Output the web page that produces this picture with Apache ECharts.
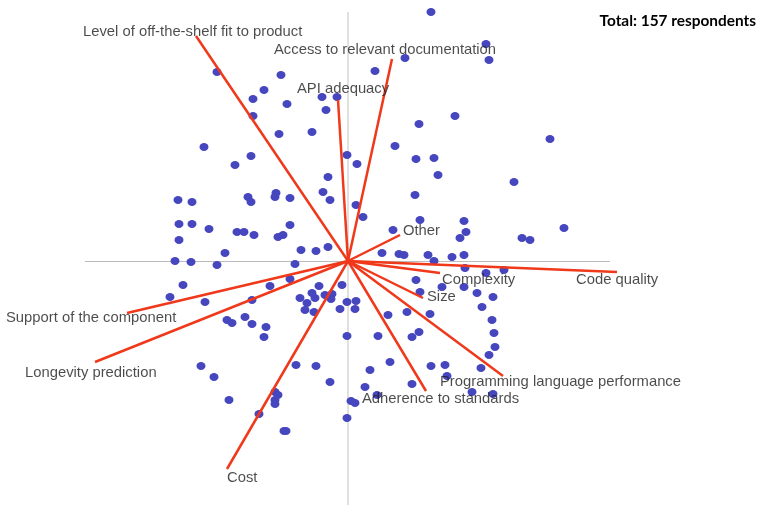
<!DOCTYPE html>
<html>
<head>
<meta charset="utf-8">
<script src="https://cdn.jsdelivr.net/npm/echarts@6/dist/echarts.min.js"></script>
<style>
  html, body { margin: 0; padding: 0; background: #fff; }
  #chart { width: 763px; height: 506px; }
</style>
</head>
<body>
<div id="chart"></div>
<script>
// Respondent scores on the first two principal components
const respondentScores = [
  [-1.31, 1.89], [-0.67, 1.86], [-0.84, 1.71], [-0.95, 1.62], [-0.61, 1.57],
  [-0.26, 1.64], [-0.11, 1.64], [-0.22, 1.51], [-0.95, 1.45], [-0.69, 1.27],
  [-0.36, 1.29], [-1.44, 1.14], [0.83, 2.49], [1.38, 2.17], [1.41, 2.01],
  [0.57, 2.03], [0.27, 1.90], [1.07, 1.45], [0.71, 1.37], [2.02, 1.22],
  [0.47, 1.15], [-0.97, 1.05], [-1.13, 0.96], [-0.01, 1.06], [0.09, 0.97],
  [-0.20, 0.84], [-0.25, 0.69], [-0.18, 0.61], [0.08, 0.56], [0.15, 0.44],
  [-1.70, 0.61], [-1.56, 0.59], [-1.00, 0.64], [-0.97, 0.59], [-0.72, 0.68],
  [-0.73, 0.64], [-0.58, 0.63], [-1.69, 0.37], [-1.56, 0.37], [-1.39, 0.32],
  [-1.69, 0.21], [-1.11, 0.29], [-1.04, 0.29], [-0.94, 0.26], [-0.58, 0.36],
  [-0.70, 0.24], [-0.65, 0.26], [-1.23, 0.08], [-0.47, 0.11], [-0.32, 0.10],
  [-0.20, 0.14], [-1.73, 0.00], [-1.57, -0.01], [-1.31, -0.04], [-0.53, -0.03],
  [-1.65, -0.24], [-0.58, -0.18], [-0.78, -0.25], [-0.29, -0.25], [-0.06, -0.24],
  [0.68, 1.02], [0.86, 1.03], [0.90, 0.86], [1.66, 0.79], [0.67, 0.66],
  [0.72, 0.41], [1.16, 0.40], [1.18, 0.29], [1.12, 0.23], [1.74, 0.23],
  [1.82, 0.21], [2.16, 0.33], [0.45, 0.31], [0.34, 0.08], [0.51, 0.07],
  [0.56, 0.06], [0.80, 0.06], [0.86, 0.00], [1.04, 0.04], [1.16, 0.06],
  [1.17, -0.07], [1.38, -0.12], [1.56, -0.09], [0.68, -0.19], [0.94, -0.26],
  [1.16, -0.26], [0.72, -0.31], [1.29, -0.32], [1.45, -0.36], [1.34, -0.46],
  [1.44, -0.59], [1.46, -0.72], [1.47, -0.86], [1.41, -0.94], [1.33, -1.07],
  [0.40, -0.54], [0.59, -0.51], [0.82, -0.53], [0.30, -0.75], [0.64, -0.76],
  [0.71, -0.71], [0.42, -1.01], [0.22, -1.09], [0.83, -1.05], [0.97, -1.04],
  [0.99, -1.15], [0.64, -1.23], [0.17, -1.26], [1.24, -1.31], [1.45, -1.33],
  [0.29, -1.34], [-1.78, -0.36], [-1.43, -0.41], [-0.96, -0.39], [-1.21, -0.59],
  [-1.16, -0.62], [-1.03, -0.56], [-0.96, -0.63], [-0.82, -0.66], [-0.84, -0.76],
  [-0.48, -0.37], [-0.36, -0.32], [-0.33, -0.37], [-0.41, -0.42], [-0.43, -0.49],
  [-0.34, -0.51], [-0.23, -0.34], [-0.16, -0.33], [-0.17, -0.38], [-0.01, -0.41],
  [0.08, -0.40], [-0.08, -0.48], [0.07, -0.48], [-0.01, -0.75], [-1.47, -1.05],
  [-1.34, -1.16], [-0.52, -1.04], [-0.32, -1.05], [-0.18, -1.21], [-1.19, -1.39],
  [-0.73, -1.31], [-0.70, -1.34], [-0.73, -1.39], [-0.73, -1.43], [-0.89, -1.53],
  [-0.64, -1.70], [-0.62, -1.70], [0.03, -1.40], [0.07, -1.42], [-0.01, -1.57]
];

// Selection criteria and their loading vectors
const criteria = [
  'Level of off-the-shelf fit to product',
  'Access to relevant documentation',
  'API adequacy',
  'Other',
  'Code quality',
  'Complexity',
  'Size',
  'Programming language performance',
  'Adherence to standards',
  'Cost',
  'Longevity prediction',
  'Support of the component'
];
const loadingX = [-1.52, 0.44, -0.10, 0.52, 2.69, 0.92, 0.75, 1.55, 0.78, -1.21, -2.53, -2.21];
const loadingY = [2.25, 2.02, 1.61, 0.26, -0.11, -0.12, -0.37, -1.15, -1.30, -2.08, -1.01, -0.52];

const totalLabel = 'Total: 157 respondents';

// Where each criterion's label sits relative to its arrow tip (px: right, down)
const labelShift = [
  [-113, -4], [-118, -9], [-41, -11], [3, -4], [-41, 8], [2, 7],
  [4, -1], [-63, 6], [-64, 8], [0, 9], [-70, 11], [-121, 5]
];

const chart = echarts.init(document.getElementById('chart'), null, { renderer: 'canvas' });

const vectorLines = criteria.map((name, i) => ({
  name,
  coords: [[0, 0], [loadingX[i], loadingY[i]]]
}));

const vectorTips = criteria.map((name, i) => ({
  name,
  value: [loadingX[i], loadingY[i]],
  label: { offset: labelShift[i] }
}));

chart.setOption({
  animation: false,
  backgroundColor: '#ffffff',
  title: {
    text: totalLabel,
    right: 2,
    top: 9,
    textStyle: {
      fontFamily: 'Lato, "Open Sans", sans-serif',
      fontWeight: 'bold',
      fontSize: 15.4,
      color: '#000000'
    }
  },
  grid: { left: 0, right: 0, top: 0, bottom: 0 },
  xAxis: { type: 'value', min: -3.48, max: 4.15, show: false },
  yAxis: { type: 'value', min: -2.45, max: 2.61, show: false },
  series: [
    {
      // reference axes through the origin
      type: 'lines',
      coordinateSystem: 'cartesian2d',
      silent: true,
      z: 1,
      data: [
        { coords: [[-2.63, 0], [2.62, 0]], lineStyle: { color: '#7a7a7a', width: 1 } },
        { coords: [[0, 2.49], [0, -2.44]], lineStyle: { color: '#b4b4b4', width: 1.6 } }
      ]
    },
    {
      type: 'scatter',
      name: 'Respondents',
      z: 2,
      symbol: 'circle',
      symbolSize: [9, 8],
      itemStyle: { color: '#4646bf', opacity: 1 },
      data: respondentScores
    },
    {
      type: 'lines',
      name: 'Loadings',
      coordinateSystem: 'cartesian2d',
      z: 3,
      lineStyle: { color: '#f0381a', width: 2.5, opacity: 1 },
      data: vectorLines
    },
    {
      type: 'scatter',
      name: 'Criteria',
      z: 4,
      symbolSize: 0,
      data: vectorTips,
      label: {
        show: true,
        formatter: p => p.name,
        position: 'inside',
        align: 'left',
        verticalAlign: 'middle',
        fontFamily: '"Liberation Sans", Arial, sans-serif',
        fontSize: 14.8,
        color: '#1e1e1e'
      }
    }
  ]
});
</script>
</body>
</html>
